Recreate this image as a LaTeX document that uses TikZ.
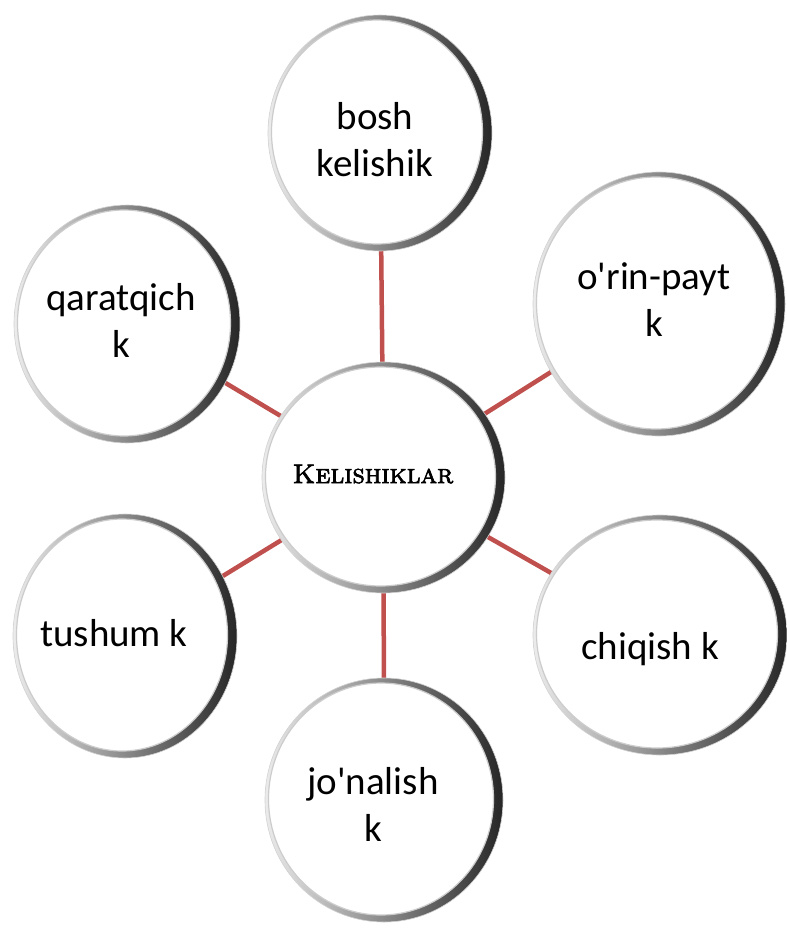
\documentclass[tikz,border=0pt]{standalone}
\usepackage{fontspec}
\newfontfamily\carl{Carlito}
\newfontfamily\capsf{lmromancaps10-regular.otf}[FakeBold=2.5]
\usetikzlibrary{shapes.geometric,backgrounds}
\definecolor{linkred}{HTML}{C0504D}
\tikzset{
  bubble/.style 2 args={ellipse, inner sep=0pt, minimum width=2*#1, minimum height=2*#2,
    draw=gray!35, line width=0.6pt,
    path picture={
      \shade[left color=gray!15, middle color=gray!35, right color=black!85]
        (path picture bounding box.south west) rectangle (path picture bounding box.north east);
      \fill[white, draw=gray!40, line width=1.2pt]
        ([xshift=-3pt,yshift=1pt]path picture bounding box.center)
        ellipse [x radius=#1-6.5pt, y radius=#2-6pt];
    }},
  lbl/.style={font=\carl\fontsize{39}{47}\selectfont, align=center, inner sep=0pt},
  clbl/.style={font=\capsf\fontsize{27}{32}\selectfont, inner sep=0pt},
  link/.style={draw=linkred, line width=4.5pt}
}
\begin{document}
\begin{tikzpicture}[x=1pt,y=-1pt]
\useasboundingbox (0,0) rectangle (787,929);
% bubbles
\node[bubble={121.5pt}{115.5pt}] (c) at (383.5,477.5) {};
\node[bubble={112pt}{118pt}] (bosh) at (380,133) {};
\node[bubble={126pt}{132pt}] (orin) at (659,304) {};
\node[bubble={113pt}{119pt}] (qar) at (127,324) {};
\node[bubble={112pt}{122pt}] (tush) at (125,636) {};
\node[bubble={127pt}{120pt}] (chiq) at (660,635) {};
\node[bubble={119pt}{122pt}] (jon) at (384,800) {};
% labels
\node[clbl] (tc) at (373,474) {Kelishiklar};
\node[lbl] (tbosh) at (375,140) {bosh\\kelishik};
\node[lbl] (torin) at (654,300) {o'rin-payt\\k};
\node[lbl] (tqar) at (121,320) {qaratqich\\k};
\node[lbl] (ttush) at (114,633) {tushum k};
\node[lbl] (tchiq) at (650,649) {chiqish k};
\node[lbl] (tjon) at (373,804) {jo'nalish\\k};
% connectors
\begin{scope}[on background layer]
\draw[link] (c.center) -- (bosh.center);
\draw[link] (c.center) -- (orin.center);
\draw[link] (c.center) -- (qar.center);
\draw[link] (c.center) -- (tush.center);
\draw[link] (c.center) -- (chiq.center);
\draw[link] (c.center) -- (jon.center);
\end{scope}
\end{tikzpicture}
\end{document}
